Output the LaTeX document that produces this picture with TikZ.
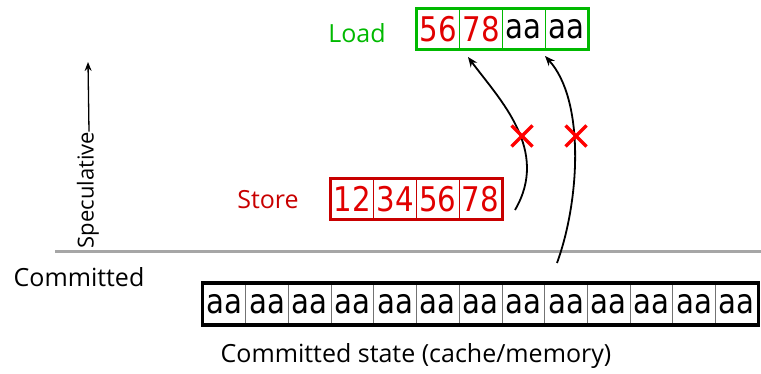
\documentclass[tikz,border=0pt]{standalone}
\usepackage{fontspec}
\setmainfont{Open Sans}
\newfontfamily\cellfont[FakeStretch=0.86]{DejaVu Sans}
\usetikzlibrary{fit,arrows.meta}
\definecolor{lgreen}{RGB}{0,185,0}
\definecolor{dred}{RGB}{200,0,0}
\definecolor{tred}{RGB}{225,0,0}
\definecolor{xred}{RGB}{255,0,0}
\tikzset{
  cell/.style={draw, line width=0.8pt, minimum width=42.7pt, minimum height=40pt, inner sep=0pt, font=\cellfont\fontsize{34}{34}\selectfont},
  lbl/.style={font=\fontsize{25}{25}\selectfont, inner sep=0pt},
  outer/.style={draw, line width=3.5pt, inner sep=0pt},
  arr/.style={-{Stealth[length=10pt,width=8pt]}, line width=1.8pt},
  xmark/.style={draw=xred, line width=3.5pt}
}
\begin{document}
\begin{tikzpicture}[x=1pt,y=-1pt]
\useasboundingbox (0,0) rectangle (761,374);
% Load
\foreach \t [count=\i] in {56,78,aa,aa}{
  \node[cell, draw=lgreen, text=\ifnum\i<3 tred\else black\fi] (l\i) at (438.4+42.7*\i-42.7,29) {\t};
}
\node[outer, draw=lgreen, fit=(l1)(l4)] (load) {};
\node[lbl, text=lgreen] (loadl) at (357,33) {Load};
% Store
\foreach \t [count=\i] in {12,34,56,78}{
  \node[cell, draw=dred, text=tred] (s\i) at (352.4+42.7*\i-42.7,199) {\t};
}
\node[outer, draw=dred, fit=(s1)(s4)] (store) {};
\node[lbl, text=dred] (storel) at (268,200) {Store};
% Committed
\foreach \i in {1,...,13}{
  \node[cell, draw=black!55, text=black, minimum height=41pt] (c\i) at (224.4+42.7*\i-42.7,304) {aa};
}
\node[outer, draw=black, fit=(c1)(c13)] (comm) {};
\node[lbl] (commlbl) at (416,356) {Committed state (cache/memory)};
% divider
\coordinate (d1) at (55,252);
\coordinate (d2) at (761,252);
\draw[black!35, line width=3pt] (d1) -- (d2);
\node[lbl] (committed) at (79,277) {Committed};
\node[font=\fontsize{22}{22}\selectfont, inner sep=0pt, rotate=90] (spec) at (88,190) {Speculative};
\coordinate (spectop) at (88,62);
\draw[-{Stealth[length=9pt,width=7pt]}, line width=1.3pt] ([xshift=1pt]spec.east) -- (spectop);
% arrows
\coordinate (a1s) at (515,210);
\coordinate (a1e) at (468,57);
\coordinate (a2s) at (557,263);
\coordinate (a2e) at (545,56);
\draw[arr] (a1s) .. controls (550,150) and (500,100) .. (a1e);
\draw[arr] (a2s) .. controls (580,200) and (585,100) .. (a2e);
% X marks
\coordinate (x1) at (522,136);
\coordinate (x2) at (576,136);
\foreach \p in {x1,x2}{
  \draw[xmark] ([shift={(-10.5,-10.5)}]\p) -- ([shift={(10.5,10.5)}]\p);
  \draw[xmark] ([shift={(-10.5,10.5)}]\p) -- ([shift={(10.5,-10.5)}]\p);
}
\end{tikzpicture}
\end{document}
